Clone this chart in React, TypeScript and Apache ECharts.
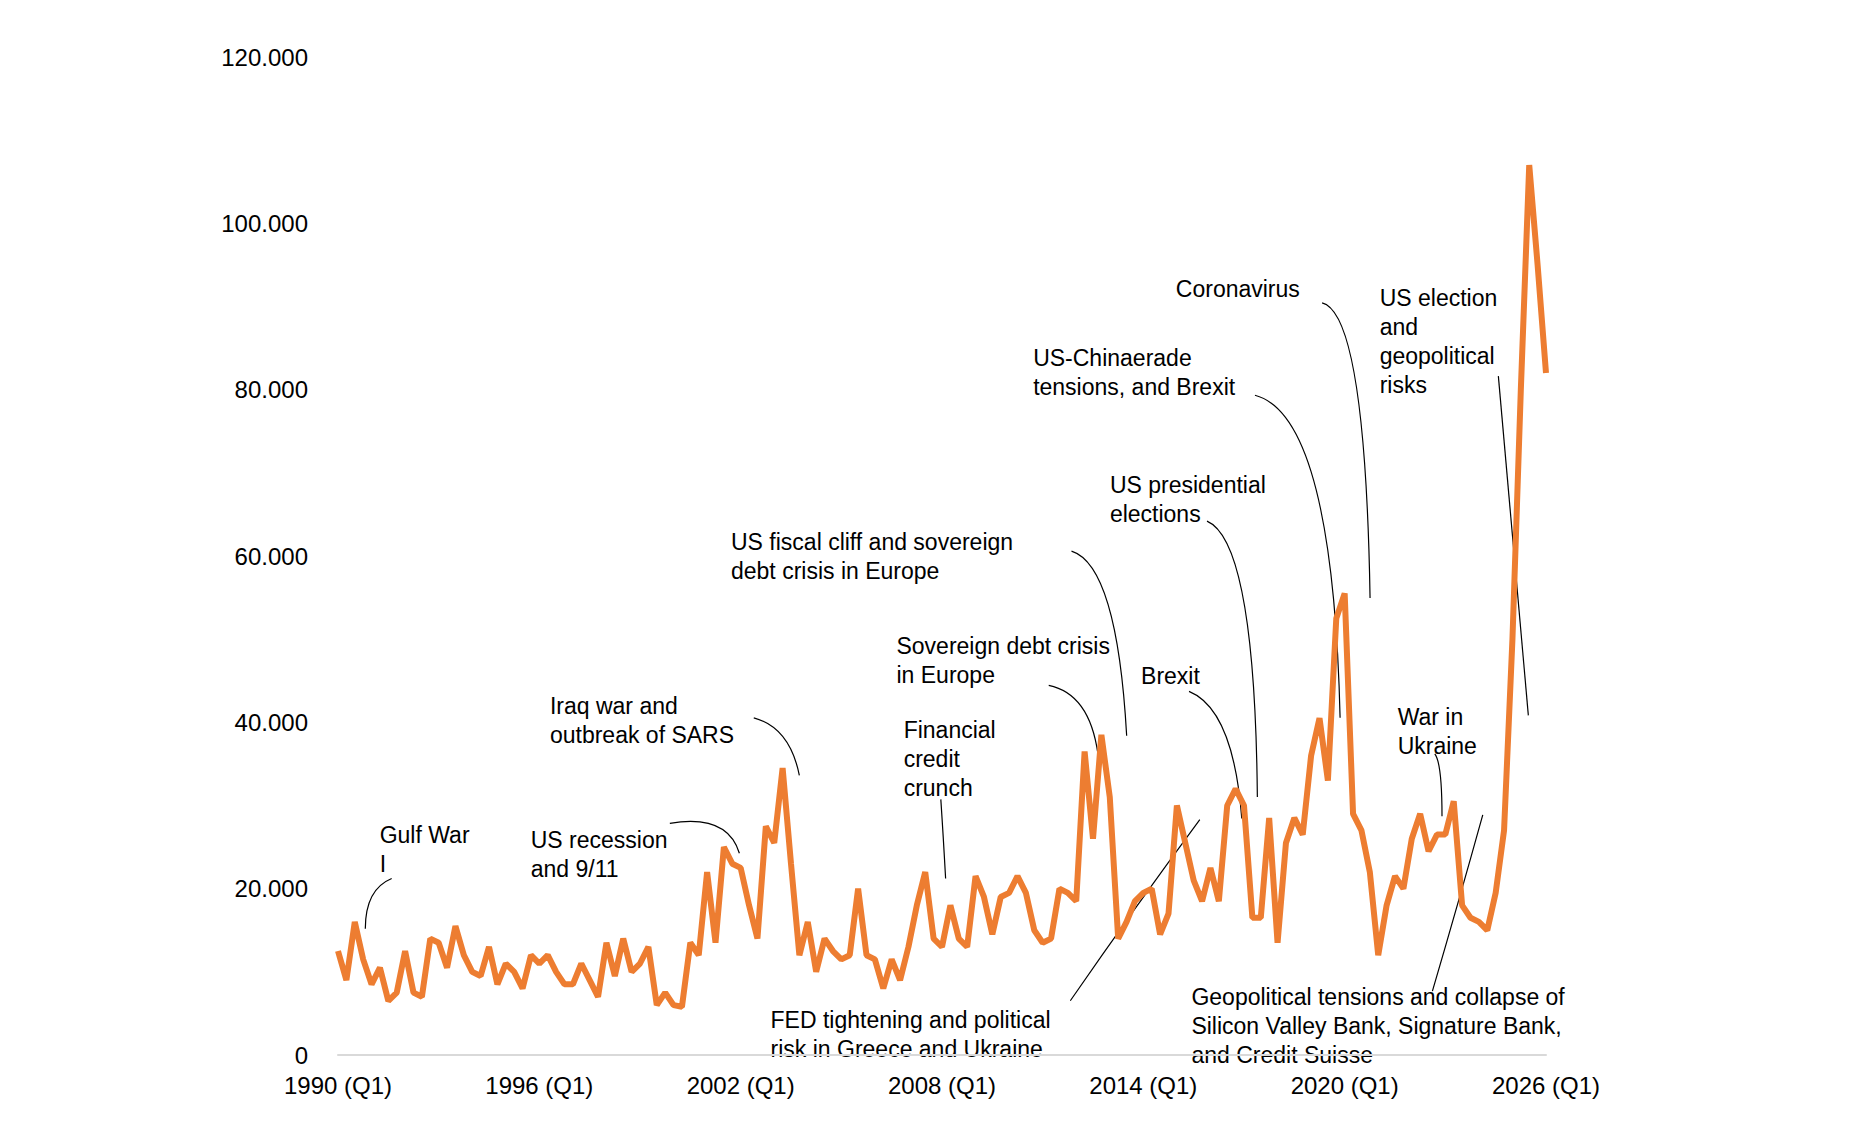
import * as echarts from "echarts";
import React, { useEffect, useRef } from "react";

const years = Array.from({ length: 37 }, (_, i) => 1990 + i);
const quarters = years.flatMap((y) => [1, 2, 3, 4].map((q) => `${y} (Q${q})`)).slice(0, 145);

// values in thousands, 1990 Q1 .. 2026 Q1
const values = [
  12.5, 9, 16, 11.5, 8.5, 10.5, 6.5, 7.5, 12.5, 7.5, 7, 14, 13.5, 10.5, 15.5, 12,
  10, 9.5, 13, 8.5, 11, 10, 8, 12, 11, 12, 10, 8.5, 8.5, 11, 9, 7,
  13.5, 9.5, 14, 10, 11, 13, 6, 7.5, 6, 5.8, 13.5, 12, 22, 13.5, 25, 23,
  22.5, 18, 14, 27.5, 25.5, 34.5, 23, 12, 16, 10, 14, 12.5, 11.5, 12, 20, 12,
  11.5, 8, 11.5, 9, 13, 18, 22, 14, 13, 18, 14, 13, 21.5, 19, 14.5, 19,
  19.5, 21.5, 19.5, 15, 13.5, 14, 20, 19.5, 18.5, 36.5, 26, 38.5, 31, 14, 16, 18.5,
  19.5, 20, 14.5, 17, 30, 25.5, 21, 18.5, 22.5, 18.5, 30, 32, 30, 16.5, 16.5, 28.5,
  13.5, 25.5, 28.5, 26.5, 36, 40.5, 33, 52.5, 55.5, 29, 27, 22, 12, 18, 21.5, 20,
  26, 29, 24.5, 26.5, 26.5, 30.5, 18, 16.5, 16, 15, 19.5, 27, 50, 80, 107, 95, 82,
].map((v) => v * 1000);

const yTicks = [0, 20000, 40000, 60000, 80000, 100000, 120000];

// annotation text and leader lines (reference display coords, scaled by S)
const S = 1.199;
const notes: { text: string; x: number; y: number; line: number[] }[] = [
  { text: "Gulf War\nI", x: 310, y: 678, line: [320, 726, 298, 735, 298, 768] },
  { text: "US recession\nand 9/11", x: 436, y: 682, line: [552, 680, 600, 672, 610, 705] },
  { text: "Iraq war and\noutbreak of SARS", x: 452, y: 570, line: [622, 592, 652, 600, 660, 640] },
  { text: "Financial\ncredit\ncrunch", x: 747, y: 590, line: [778, 660, 780, 690, 782, 726] },
  { text: "US fiscal cliff and sovereign\ndebt crisis in Europe", x: 603, y: 433, line: [887, 453, 925, 465, 933, 607] },
  { text: "Sovereign debt crisis\nin Europe", x: 741, y: 520, line: [868, 565, 902, 572, 909, 622] },
  { text: "FED tightening and political\nrisk in Greece and Ukraine", x: 636, y: 832, line: [886, 828, 940, 750, 994, 677] },
  { text: "Brexit", x: 945, y: 545, line: [985, 570, 1022, 585, 1029, 676] },
  { text: "US presidential\nelections", x: 919, y: 386, line: [1000, 428, 1040, 445, 1042, 658] },
  { text: "US-Chinaerade\ntensions, and Brexit", x: 855, y: 280, line: [1040, 323, 1105, 340, 1111, 592] },
  { text: "Coronavirus", x: 974, y: 222, line: [1096, 246, 1132, 255, 1136, 492] },
  { text: "US election\nand\ngeopolitical\nrisks", x: 1144, y: 230, line: [1243, 307, 1255, 450, 1268, 590] },
  { text: "War in\nUkraine", x: 1159, y: 579, line: [1190, 622, 1196, 630, 1196, 674] },
  { text: "Geopolitical tensions and collapse of\nSilicon Valley Bank, Signature Bank,\nand Credit Suisse", x: 987, y: 813, line: [1188, 820, 1210, 745, 1230, 673] },
];

const font = "'Liberation Sans', Arial, sans-serif";

const App: React.FC = () => {
  const chartRef = useRef<HTMLDivElement | null>(null);

  useEffect(() => {
    if (!chartRef.current) return;
    const chart = echarts.init(chartRef.current, undefined, { renderer: "svg" });

    const graphics: any[] = [];
    notes.forEach((n) => {
      graphics.push({
        type: "text",
        x: n.x * S,
        y: n.y * S,
        style: { text: n.text, font: `23px ${font}`, fill: "#000", lineHeight: 29 },
      });
      const [x1, y1, cx, cy, x2, y2] = n.line.map((v) => v * S);
      graphics.push({
        type: "bezierCurve",
        shape: { x1, y1, cpx1: cx, cpy1: cy, x2, y2 },
        style: { stroke: "#000", lineWidth: 1.2, fill: "none" },
      });
    });

    const option: echarts.EChartsOption = {
      animation: false,
      grid: { left: 330, right: 1870 - 1554, top: 49, bottom: 1144 - 1063 },
      xAxis: {
        type: "category",
        data: quarters,
        boundaryGap: false,
        axisLine: { lineStyle: { color: "#d9d9d9", width: 2 } },
        axisTick: { show: false },
        axisLabel: {
          interval: 23,
          color: "#000",
          fontSize: 24,
          fontFamily: font,
          margin: 18,
        },
      },
      yAxis: {
        type: "value",
        min: yTicks[0],
        max: yTicks[yTicks.length - 1],
        interval: 20000,
        splitLine: { show: false },
        axisLabel: {
          color: "#000",
          fontSize: 24,
          fontFamily: font,
          margin: 30,
          formatter: (v: number) => (v === 0 ? "0" : `${v / 1000}.000`),
        },
      },
      series: [
        {
          type: "line",
          data: values,
          showSymbol: false,
          lineStyle: { color: "#ed7d31", width: 6 },
        },
      ],
      graphic: graphics,
    };

    chart.setOption(option);
    return () => chart.dispose();
  }, []);

  return <div ref={chartRef} style={{ width: 1854, height: 1128 }} />;
};

export default App;
